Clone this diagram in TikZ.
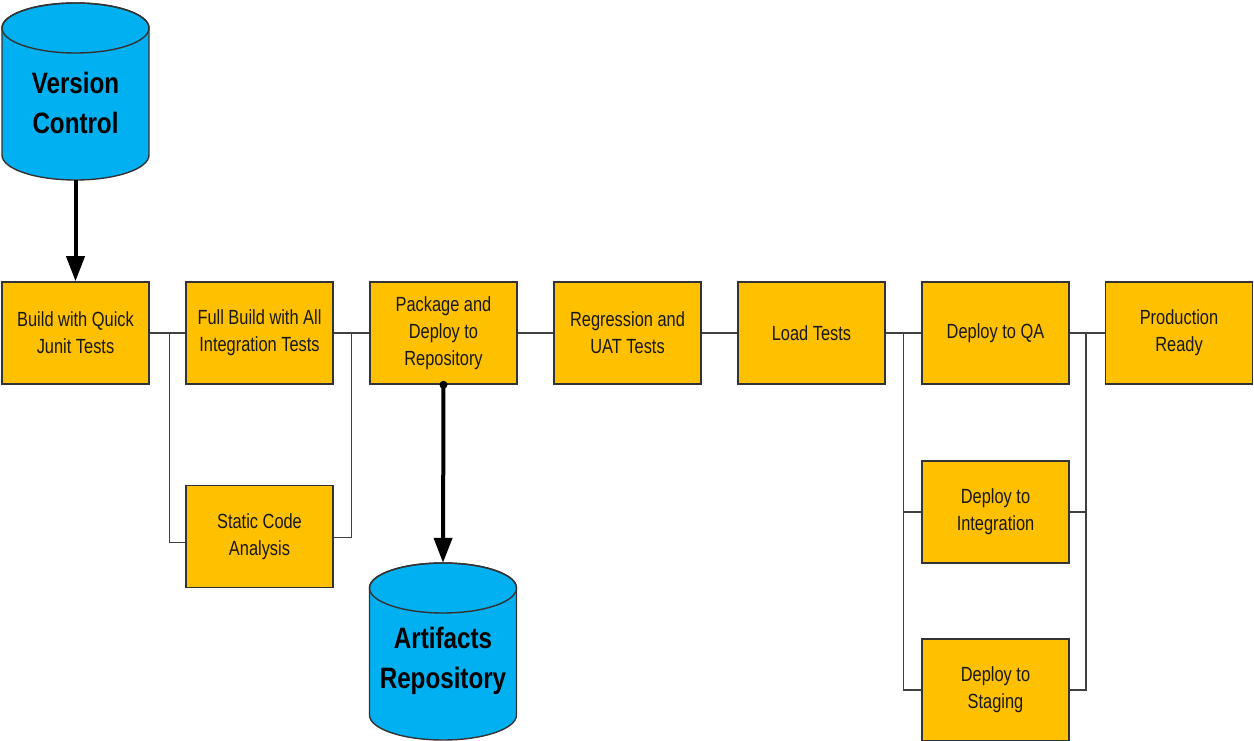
\documentclass[tikz,border=0pt]{standalone}
\usepackage{fontspec}
\setmainfont{Liberation Sans}[FakeStretch=0.8]
\newfontfamily\bigfont{Liberation Sans}[FakeStretch=0.82]
\usetikzlibrary{arrows.meta,calc}
\definecolor{boxc}{HTML}{FFC000}
\definecolor{cylc}{HTML}{00B0F0}
\begin{document}
\begin{tikzpicture}[x=1pt,y=1pt,
  stepbox/.style={draw=black!80, line width=1.6pt, fill=boxc, minimum width=147pt, minimum height=102pt, inner sep=0pt, align=center, font=\fontsize{20.5}{27}\selectfont, text=black!90},
  conn/.style={draw=black!75, line width=1.6pt},
  bigarrow/.style={-{Triangle[width=18pt,length=25pt]}, line width=4pt, black},
  cylbody/.style={minimum width=147pt, minimum height=177pt, inner sep=0pt},
  cylfill/.style={draw=black!80, line width=1.4pt, fill=cylc},
  bigtxt/.style={align=center, font=\bigfont\bfseries\fontsize{29.5}{40}\selectfont, text=black, inner sep=0pt}
]
\useasboundingbox (0,0) rectangle (1254,741);
\fill[white] (0,0) rectangle (1254,741);

% Version control cylinder
\node[cylbody] (vc) at (75.5,649.5) {};
\path[cylfill] (2,713) -- (2,586) arc[start angle=180,end angle=360,x radius=73.5,y radius=25] -- (149,713) arc[start angle=0,end angle=180,x radius=73.5,y radius=25] -- cycle;
\draw[draw=black!80, line width=1.4pt] (75.5,713) ellipse[x radius=73.5,y radius=25];
\node[bigtxt] (vct) at (75.5,638) {Version\\Control};

% Artifacts cylinder
\node[cylbody] (ar) at (443,89.5) {};
\path[cylfill] (369.5,153) -- (369.5,26) arc[start angle=180,end angle=360,x radius=73.5,y radius=25] -- (516.5,153) arc[start angle=0,end angle=180,x radius=73.5,y radius=25] -- cycle;
\draw[draw=black!80, line width=1.4pt] (443,153) ellipse[x radius=73.5,y radius=25];
\node[bigtxt] (art) at (443,80) {Artifacts\\Repository};

% Top row
\node[stepbox] (b1) at (75.5,408) {Build with Quick\\Junit Tests};
\node[stepbox] (b2) at (259.5,408) {Full Build with All\\Integration Tests};
\node[stepbox] (b3) at (443.5,408) {Package and\\Deploy to\\Repository};
\node[stepbox] (b4) at (627.5,408) {Regression and\\UAT Tests};
\node[stepbox] (b5) at (811.5,408) {Load Tests};
\node[stepbox] (b6) at (995.5,408) {Deploy to QA};
\node[stepbox] (b7) at (1179,408) {Production\\Ready};

% Lower boxes
\node[stepbox] (sca) at (259.5,204.5) {Static Code\\Analysis};
\node[stepbox] (di) at (995.5,229) {Deploy to\\Integration};
\node[stepbox] (ds) at (995.5,51) {Deploy to\\Staging};

% Junction coordinates
\coordinate (j1) at ($(b1.east)!0.56!(b2.west)$);
\coordinate (j2) at ($(b2.east)!0.5!(b3.west)$);
\coordinate (j3) at ($(b5.east)!0.5!(b6.west)$);
\coordinate (j4) at ($(b6.east)!0.47!(b7.west)$);

% Connectors
\draw[conn] (b1.east) -- (b2.west);
\draw[conn] (b2.east) -- (b3.west);
\draw[conn] (b3.east) -- (b4.west);
\draw[conn] (b4.east) -- (b5.west);
\draw[conn] (b5.east) -- (b6.west);
\draw[conn] (b6.east) -- (b7.west);
\draw[conn] (j1) |- ([yshift=-6pt]sca.west);
\draw[conn] (j2) |- ([yshift=-1pt]sca.east);
\draw[conn] (j3) |- (di.west);
\draw[conn] (j3) |- (ds.west);
\draw[conn] (j4) |- (di.east);
\draw[conn] (j4) |- (ds.east);

% Thick arrows
\draw[bigarrow] (vc.south) -- (b1.north);
\draw[bigarrow] (b3.south) -- (ar.north);
\fill[black] (b3.south) circle[radius=4];
\end{tikzpicture}
\end{document}
